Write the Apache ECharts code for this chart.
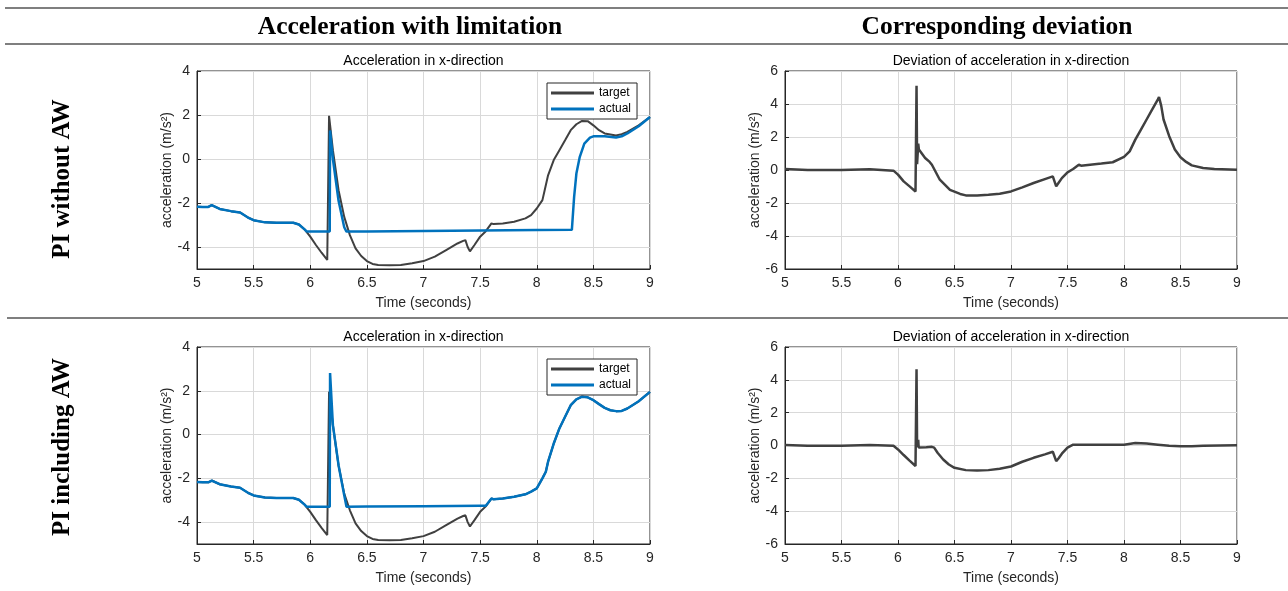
<!DOCTYPE html>
<html><head><meta charset="utf-8">
<script src="https://cdn.jsdelivr.net/npm/echarts@6/dist/echarts.min.js"></script>
<style>html,body{margin:0;padding:0;background:#fff}#c{width:1288px;height:591px}</style>
</head><body><div id="c"></div><script>
// ---------- DATA ----------
// Row 1: PI without AW
const tgtA_t = [5, 5.05, 5.1, 5.13, 5.2, 5.3, 5.38, 5.45, 5.5, 5.6, 5.7, 5.85, 5.9, 5.95, 6.0, 6.05, 6.1, 6.15, 6.163, 6.166, 6.2, 6.25, 6.3, 6.35, 6.4, 6.45, 6.5, 6.55, 6.6, 6.7, 6.8, 6.9, 7.0, 7.1, 7.2, 7.3, 7.35, 7.37, 7.39, 7.41, 7.45, 7.5, 7.55, 7.6, 7.62, 7.7, 7.8, 7.9, 7.95, 8.0, 8.05, 8.07, 8.1, 8.15, 8.2, 8.25, 8.3, 8.35, 8.4, 8.45, 8.5, 8.55, 8.6, 8.7, 8.75, 8.8, 8.9, 9.0];
const tgtA_v = [-2.17, -2.18, -2.18, -2.1, -2.27, -2.37, -2.43, -2.66, -2.78, -2.88, -2.9, -2.9, -2.98, -3.2, -3.53, -3.91, -4.26, -4.59, -4.67, 1.96, 0.4, -1.42, -2.63, -3.46, -4.06, -4.41, -4.64, -4.77, -4.82, -4.83, -4.82, -4.74, -4.64, -4.44, -4.14, -3.84, -3.72, -3.69, -4.0, -4.2, -3.91, -3.53, -3.28, -2.93, -2.96, -2.93, -2.85, -2.7, -2.55, -2.25, -1.87, -1.42, -0.74, -0.05, 0.4, 0.85, 1.31, 1.58, 1.73, 1.72, 1.53, 1.31, 1.16, 1.07, 1.13, 1.23, 1.53, 1.91];
const actA_t = [5, 5.05, 5.1, 5.13, 5.2, 5.3, 5.38, 5.45, 5.5, 5.6, 5.7, 5.85, 5.9, 5.95, 5.97, 6.172, 6.175, 6.2, 6.25, 6.3, 6.32, 6.5, 7.0, 7.5, 8.0, 8.31, 8.33, 8.35, 8.38, 8.42, 8.47, 8.5, 8.6, 8.7, 8.75, 8.8, 8.9, 9.0];
const actA_v = [-2.17, -2.18, -2.18, -2.1, -2.27, -2.37, -2.43, -2.66, -2.78, -2.88, -2.9, -2.9, -2.98, -3.2, -3.3, -3.3, 1.3, 0.0, -1.9, -3.1, -3.3, -3.29, -3.27, -3.25, -3.23, -3.22, -1.72, -0.66, 0.1, 0.7, 0.97, 1.03, 1.03, 0.98, 1.03, 1.16, 1.49, 1.91];
const devA_t = [5.0, 5.2, 5.5, 5.75, 5.96, 6.0, 6.05, 6.1, 6.155, 6.162, 6.164, 6.167, 6.169, 6.176, 6.179, 6.185, 6.24, 6.28, 6.3, 6.37, 6.46, 6.55, 6.6, 6.7, 6.8, 6.9, 7.0, 7.1, 7.2, 7.3, 7.37, 7.4, 7.42, 7.45, 7.5, 7.55, 7.6, 7.62, 7.7, 7.8, 7.9, 8.0, 8.05, 8.1, 8.15, 8.2, 8.25, 8.3, 8.31, 8.33, 8.35, 8.4, 8.45, 8.5, 8.55, 8.6, 8.7, 8.8, 9.0];
const devA_v = [0.06, 0.0, 0.0, 0.05, -0.04, -0.28, -0.69, -0.98, -1.3, -1.32, 5.1, 5.1, 0.35, 0.35, 1.6, 1.24, 0.73, 0.49, 0.32, -0.59, -1.2, -1.45, -1.54, -1.54, -1.5, -1.44, -1.3, -1.05, -0.79, -0.55, -0.39, -0.99, -0.79, -0.49, -0.14, 0.06, 0.32, 0.26, 0.32, 0.39, 0.47, 0.79, 1.13, 1.84, 2.45, 3.06, 3.67, 4.28, 4.42, 3.87, 3.06, 2.05, 1.24, 0.77, 0.49, 0.28, 0.12, 0.06, 0.02];
// Row 2: PI including AW
const tgtB_t = [5, 5.05, 5.1, 5.13, 5.2, 5.3, 5.38, 5.45, 5.5, 5.6, 5.7, 5.85, 5.9, 5.95, 6.0, 6.05, 6.1, 6.15, 6.163, 6.166, 6.2, 6.25, 6.3, 6.35, 6.4, 6.45, 6.5, 6.55, 6.6, 6.7, 6.8, 6.9, 7.0, 7.1, 7.2, 7.3, 7.35, 7.37, 7.39, 7.41, 7.45, 7.5, 7.55, 7.6, 7.62, 7.7, 7.8, 7.9, 7.95, 8.0, 8.05, 8.08, 8.1, 8.15, 8.2, 8.25, 8.3, 8.35, 8.4, 8.45, 8.5, 8.55, 8.6, 8.65, 8.7, 8.75, 8.8, 8.9, 9.0];
const tgtB_v = [-2.17, -2.18, -2.18, -2.1, -2.27, -2.37, -2.43, -2.66, -2.78, -2.88, -2.9, -2.9, -2.98, -3.2, -3.53, -3.91, -4.26, -4.59, -4.67, 1.96, 0.43, -1.42, -2.7, -3.46, -4.06, -4.41, -4.64, -4.77, -4.82, -4.83, -4.82, -4.74, -4.64, -4.44, -4.14, -3.84, -3.72, -3.69, -4.0, -4.2, -3.91, -3.53, -3.28, -2.92, -2.96, -2.92, -2.84, -2.73, -2.61, -2.46, -2.0, -1.7, -1.24, -0.41, 0.28, 0.81, 1.34, 1.61, 1.73, 1.7, 1.57, 1.39, 1.22, 1.11, 1.07, 1.08, 1.19, 1.52, 1.95];
const actB_t = [5, 5.05, 5.1, 5.13, 5.2, 5.3, 5.38, 5.45, 5.5, 5.6, 5.7, 5.85, 5.9, 5.95, 5.97, 6.172, 6.175, 6.2, 6.25, 6.3, 6.32, 6.5, 7.0, 7.5, 7.55, 7.6, 7.62, 7.7, 7.8, 7.9, 7.95, 8.0, 8.05, 8.08, 8.1, 8.15, 8.2, 8.25, 8.3, 8.35, 8.4, 8.45, 8.5, 8.55, 8.6, 8.65, 8.7, 8.75, 8.8, 8.9, 9.0];
const actB_v = [-2.17, -2.18, -2.18, -2.1, -2.27, -2.37, -2.43, -2.66, -2.78, -2.88, -2.9, -2.9, -2.98, -3.2, -3.3, -3.3, 2.81, 0.43, -1.4, -2.77, -3.3, -3.29, -3.27, -3.25, -3.25, -2.92, -2.96, -2.92, -2.84, -2.73, -2.61, -2.46, -2.0, -1.7, -1.24, -0.41, 0.28, 0.81, 1.34, 1.61, 1.73, 1.7, 1.57, 1.39, 1.22, 1.11, 1.07, 1.08, 1.19, 1.52, 1.95];
const devB_t = [5.0, 5.2, 5.5, 5.75, 5.96, 6.0, 6.05, 6.1, 6.155, 6.162, 6.164, 6.167, 6.169, 6.176, 6.179, 6.183, 6.25, 6.3, 6.32, 6.35, 6.4, 6.45, 6.5, 6.6, 6.7, 6.8, 6.9, 7.0, 7.1, 7.2, 7.3, 7.37, 7.4, 7.42, 7.45, 7.5, 7.55, 7.6, 7.8, 8.0, 8.1, 8.2, 8.3, 8.4, 8.5, 8.6, 8.7, 9.0];
const devB_v = [0.03, -0.02, -0.02, 0.03, -0.02, -0.24, -0.58, -0.91, -1.25, -1.3, 4.65, 4.65, -0.1, -0.1, 0.35, -0.12, -0.1, -0.08, -0.13, -0.44, -0.85, -1.16, -1.36, -1.5, -1.52, -1.5, -1.42, -1.28, -0.99, -0.75, -0.54, -0.38, -0.95, -0.79, -0.5, -0.13, 0.05, 0.05, 0.05, 0.05, 0.15, 0.12, 0.05, -0.02, -0.05, -0.05, -0.02, 0.02];

// Texts
const colHeaders = ['Acceleration with limitation', 'Corresponding deviation'];
const rowHeaders = ['PI without AW', 'PI including AW'];
const leftTitle = 'Acceleration in x-direction';
const rightTitle = 'Deviation of acceleration in x-direction';
const xName = 'Time (seconds)';
const yName = 'acceleration (m/s\u00B2)';
const legendNames = ['target', 'actual'];

// ---------- CHART ----------
const FONT = '"Liberation Sans", Arial, sans-serif';
const SERIF = '"Liberation Serif", "Times New Roman", serif';
const TXT = '#262626';
const C_TGT = '#404040', C_ACT = '#0072BD';

const gridBoxes = [
  {left: 197, top: 71, width: 453, height: 198},
  {left: 785, top: 71, width: 452, height: 198},
  {left: 197, top: 347, width: 453, height: 197},
  {left: 785, top: 347, width: 452, height: 197}
];

function pairs(t, v) { return t.map((x, i) => [x, v[i]]); }

const grid = gridBoxes.map(g => Object.assign({show: true, borderColor: TXT, borderWidth: 1, backgroundColor: '#fff', containLabel: false}, g));

const xAxis = gridBoxes.map((g, i) => ({
  type: 'value', gridIndex: i, min: 5, max: 9, interval: 0.5,
  axisLine: {show: true, onZero: false, lineStyle: {color: TXT, width: 1}},
  axisTick: {show: true, inside: true, length: 4, lineStyle: {color: TXT}},
  axisLabel: {fontSize: 14, color: TXT, fontFamily: FONT, margin: 7},
  splitLine: {show: true, lineStyle: {color: '#d9d9d9', width: 1}},
  name: xName, nameLocation: 'middle', nameGap: 27,
  nameTextStyle: {fontSize: 14, color: TXT, fontFamily: FONT}
}));

const yAxis = gridBoxes.map((g, i) => {
  const left = (i % 2 === 0);
  const a = {
    type: 'value', gridIndex: i,
    axisLine: {show: true, onZero: false, lineStyle: {color: TXT, width: 1}},
    axisTick: {show: true, inside: true, length: 4, lineStyle: {color: TXT}},
    axisLabel: {fontSize: 14, color: TXT, fontFamily: FONT, margin: 7},
    splitLine: {show: true, lineStyle: {color: '#d9d9d9', width: 1}},
    name: yName, nameLocation: 'middle', nameRotate: 90, nameGap: 21,
    nameTextStyle: {fontSize: 14, color: TXT, fontFamily: FONT}
  };
  if (left) { a.min = -5; a.max = 4; a.splitNumber = 5; a.axisLabel.showMinLabel = false; }
  else { a.min = -6; a.max = 6; a.interval = 2; }
  return a;
});

function lineSeries(name, t, v, idx, color, width) {
  return {
    type: 'line', name: name, xAxisIndex: idx, yAxisIndex: idx,
    data: pairs(t, v), showSymbol: false, symbol: 'none', color: color,
    lineStyle: {color: color, width: width}, emphasis: {disabled: true},
    animation: false, silent: true, clip: true
  };
}

const series = [
  lineSeries(legendNames[0], tgtA_t, tgtA_v, 0, C_TGT, 2),
  lineSeries(legendNames[1], actA_t, actA_v, 0, C_ACT, 2.5),
  lineSeries('deviation', devA_t, devA_v, 1, C_TGT, 2.5),
  lineSeries(legendNames[0], tgtB_t, tgtB_v, 2, C_TGT, 2),
  lineSeries(legendNames[1], actB_t, actB_v, 2, C_ACT, 2.5),
  lineSeries('deviation', devB_t, devB_v, 3, C_TGT, 2.5)
];

function legendAt(top) {
  return {
    data: legendNames, orient: 'vertical', left: 547, top: top,
    padding: [4, 6, 4, 4], itemGap: 4, itemWidth: 43, itemHeight: 3, icon: 'rect',
    borderColor: TXT, borderWidth: 1, backgroundColor: '#fff', selectedMode: false,
    textStyle: {fontSize: 12, color: '#000', fontFamily: FONT}
  };
}

function txt(x, y, text, font, rot) {
  return {type: 'text', x: x, y: y, rotation: rot || 0, silent: true,
    style: {text: text, font: font, fill: '#000', align: 'center', verticalAlign: 'middle', textAlign: 'center', textVerticalAlign: 'middle'}};
}
function hline(y, x1) {
  return {type: 'line', silent: true, shape: {x1: x1, y1: y, x2: 1288, y2: y}, style: {stroke: '#7f7f7f', lineWidth: 2}};
}

const graphic = [
  hline(8, 5), hline(44, 5), hline(318, 7),
  txt(410, 27, colHeaders[0], 'bold 25.5px ' + SERIF),
  txt(997, 27, colHeaders[1], 'bold 25.5px ' + SERIF),
  txt(63, 179, rowHeaders[0], 'bold 25px ' + SERIF, Math.PI / 2),
  txt(63, 447, rowHeaders[1], 'bold 25px ' + SERIF, Math.PI / 2),
  txt(423.5, 61, leftTitle, '14px ' + FONT),
  txt(1011, 61, rightTitle, '14px ' + FONT),
  txt(423.5, 337, leftTitle, '14px ' + FONT),
  txt(1011, 337, rightTitle, '14px ' + FONT)
];

const chart = echarts.init(document.getElementById('c'), null, {renderer: 'canvas'});
chart.setOption({
  animation: false, backgroundColor: '#fff',
  grid: grid, xAxis: xAxis, yAxis: yAxis, series: series,
  legend: [legendAt(83), legendAt(359)],
  graphic: graphic
});
</script></body></html>
